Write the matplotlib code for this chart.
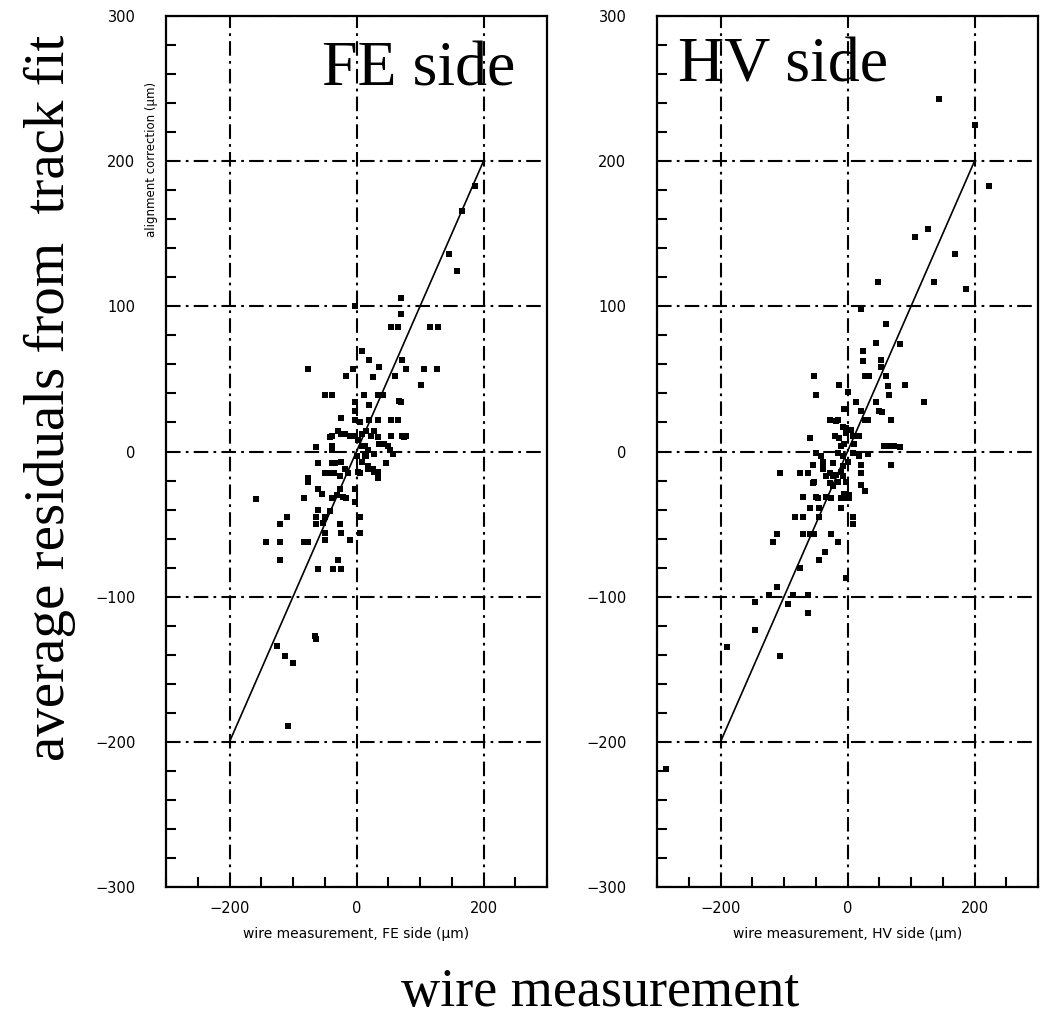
import matplotlib.pyplot as plt
from matplotlib.ticker import MultipleLocator

# residual vs wire measurement, FE side (um)
fe_x = [186, 166, 146, 158, 70, 70, 54, 66, 116, 129, -2,
        8, 20, 36, 71, 78, 106, 126, 102, -76, -6, -16, 26, 60,
        -50, -39, 12, 34, 41, -3, -3, -3, 70,
        -24, 5, 54, 65, 20, 20, 67, 34,
        -29, -18, -39, -3, 2, 15, 23, 54, 72, 78,
        8, 8, -24, -42, -11, 28, 34, 75,
        -39, 44, 49, 13, -63, -39, 18, 36, 52,
        28, 57, -60, -39, -24, 8, 15, 46, 0, 13, 18, -34,
        -50, -44, -13, 2, 28, -76,
        -36, -26, -18, 5, 18, 26, 34, 34,
        -83, -60, -55, -39, -31, -21, -16, -26, -3, -3,
        -60, -63, -50, -42, 5, -52, -63, -26, -24, -50, 5,
        -158, -76, -109, -120, -143, -120, -83, -76, -120, -60, -37, -24, -29, -50, -11,
        -65, -125, -112, -100, -64, -108]
fe_y = [183, 166, 136, 124, 106, 95, 86, 86, 86, 86, 100,
        69, 63, 58, 63, 57, 57, 57, 46, 57, 57, 52, 51, 52,
        39, 39, 39, 39, 39, 34, 28, 22, 34,
        23, 20, 22, 22, 32, 22, 35, 22,
        14, 12, 11, 11, 8, 14, 11, 11, 11, 11,
        12, 4, 12, 10, 11, 14, 10, 10,
        4, 5, 4, 4, 3, 1, 1, 5, 1,
        -2, -2, -8, -8, -7, -7, -3, -8, -3, -3, -10, -8,
        -15, -15, -15, -14, -14, -18,
        -15, -17, -12, -15, -12, -12, -14, -18,
        -32, -26, -29, -32, -30, -31, -32, -26, -26, -35,
        -40, -45, -45, -41, -45, -49, -50, -50, -56, -56, -56,
        -33, -21, -45, -50, -62, -62, -62, -62, -75, -81, -81, -81, -75, -61, -61,
        -127, -134, -141, -146, -129, -189]

# residual vs wire measurement, HV side (um)
hv_x = [144, 200, 223, 106, 127, 170, 187, 137,
        48, 21, 60, 45, 24, 24, 53, 53, 27, 34, 60, 63, 66,
        -52, -13, -49, 1, 14, 45, 50, 55, 21, 27, 32, 68, -28, -18, -7, -2,
        -20, -13, 3, 8, 18, -59, 57, 65, 73, 83,
        -49, -39, -54, -106, -75, -62, -28, -18, -7, 1, 8, 18, 21, 68,
        -5, -15, 29, -2, 6, 11, -10, -5, -41, -15, -7, 32, -39, -23,
        -39, -34, -23, -15, -10, -7, 21, -54, -28, -23, -2, 21, -70, -49, -34, -5, 3,
        -52, 27, -10, -46, -26, -7, 2, -59, -45, -45, -83, -70, -11, 9, 9,
        -70, -59, -52, -111, -118, -26, -15, -36, -45, -75, -3, -111, -123, -86, -62,
        -145, -94, -62, -146, -190, -106, -286,
        83, 90, 120]
hv_y = [243, 225, 183, 148, 153, 136, 112, 117,
        117, 98, 88, 75, 69, 62, 63, 58, 52, 52, 52, 45, 39,
        52, 46, 39, 41, 34, 34, 28, 27, 28, 22, 22, 22, 22, 21, 17, 13,
        11, 9, 15, 11, 11, 9, 4, 4, 4, 3,
        -1, -7, -9, -15, -15, -15, -15, -16, -10, -7, -1, -3, -9, -9,
        29, 22, 22, 16, 15, 5, 4, 5, -3, -1, -3, -2, -9, -8,
        -12, -17, -17, -21, -14, -17, -15, -22, -22, -24, -21, -23, -31, -31, -31, -29, -30,
        -21, -27, -32, -32, -32, -32, -32, -39, -39, -45, -45, -45, -39, -45, -50,
        -57, -57, -57, -57, -62, -57, -62, -69, -75, -80, -87, -93, -99, -99, -99,
        -104, -105, -111, -123, -135, -141, -219,
        74, 46, 34]

fit_line = [-200, 200]

panels = [(fe_x, fe_y, "wire measurement, FE side (\u00b5m)", "FE side"),
          (hv_x, hv_y, "wire measurement, HV side (\u00b5m)", "HV side")]
lefts = [166 / 1041, 657 / 1041]

fig = plt.figure(figsize=(10.41, 10.24), dpi=100)

for (xs, ys, xlab, title), left in zip(panels, lefts):
    ax = fig.add_axes([left, 1 - 887 / 1024, 381 / 1041, 871 / 1024])
    ax.set_xlim(-300, 300)
    ax.set_ylim(-300, 300)
    ax.xaxis.set_major_locator(MultipleLocator(200))
    ax.xaxis.set_minor_locator(MultipleLocator(50))
    ax.yaxis.set_major_locator(MultipleLocator(100))
    ax.yaxis.set_minor_locator(MultipleLocator(20))
    ax.tick_params(which="both", direction="in", top=False, right=False,
                   labelsize=10.5, width=1.5)
    ax.tick_params(which="major", length=0)
    ax.tick_params(which="minor", length=7)
    ax.tick_params(axis="y", pad=22)
    ax.tick_params(axis="x", pad=10)
    for s in ax.spines.values():
        s.set_linewidth(1.6)
    # dash-dot grid at the major ticks
    ax.grid(True, which="major", color="k", lw=1.5, dashes=(7, 2.5, 1.3, 2.5))
    ax.plot(fit_line, fit_line, color="k", lw=1.2, zorder=3)
    ax.plot(xs, ys, "s", color="k", ms=4.2, mew=0, zorder=4, clip_on=False)
    ax.set_xlabel(xlab, fontsize=10, labelpad=8)
    if title == "FE side":
        ax.text(-0.037, 0.835, "alignment correction (\u00b5m)", transform=ax.transAxes,
                rotation=90, ha="center", va="center", fontsize=8.5)
        ax.text(0.41, 0.92, title, transform=ax.transAxes, family="Liberation Serif",
                fontsize=46, ha="left", va="baseline")
    else:
        ax.text(0.055, 0.925, title, transform=ax.transAxes, family="Liberation Serif",
                fontsize=46, ha="left", va="baseline")

fig.text(50 / 1041, 1 - 398 / 1024, "average residuals from  track fit", rotation=90,
         ha="center", va="center", family="Liberation Serif", fontsize=41)
fig.text(600 / 1041, 1 - 993 / 1024, "wire measurement", ha="center", va="center",
         family="Liberation Serif", fontsize=39)

fig.savefig("out.png", dpi=100)
